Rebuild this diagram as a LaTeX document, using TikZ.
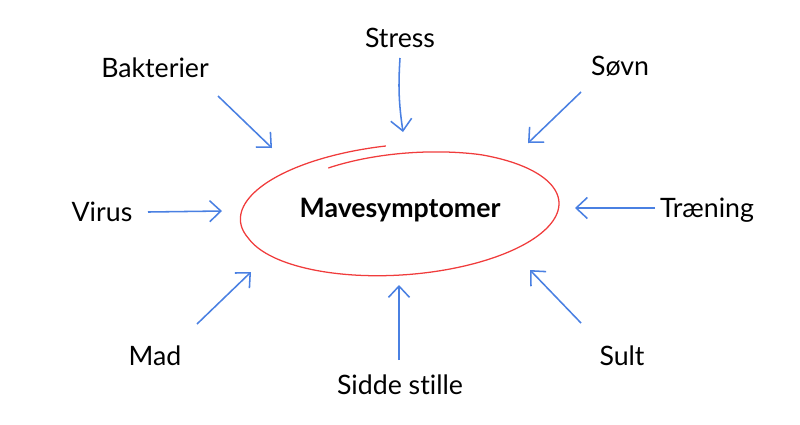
\documentclass[tikz,border=0pt]{standalone}
\usepackage{fontspec}
\setmainfont[Ligatures=NoCommon]{Lato}
\usepackage{tikz}
\usetikzlibrary{arrows.meta}
\definecolor{arrowblue}{RGB}{74,128,226}
\definecolor{ringred}{RGB}{240,60,60}

\begin{document}
\begin{tikzpicture}[x=0.025cm,y=-0.025cm,
  word/.style={font=\fontsize{19}{23}\selectfont, inner sep=0pt},
  cause/.style={draw=arrowblue, line width=1.1pt, -{Straight Barb[length=8pt,width=15pt,line width=1.1pt]}}]

\useasboundingbox (0,0) rectangle (800,424);

% Center
\node [word, font=\fontsize{19}{23}\selectfont\bfseries] (mave) at (400,210) {Mavesymptomer};
\draw [ringred, line width=0.9pt] plot [domain=120:-265, samples=160, smooth, variable=\t]
  ({401 + 158*(1 - 0.08*max(0,(\t-60)/60) + 0.1*max(0,(-165-\t)/100))*cos(\t)},
   {213 - 62*(1 - 0.08*max(0,(\t-60)/60) + 0.1*max(0,(-165-\t)/100))*sin(\t)
    - 0.06*158*(1 - 0.08*max(0,(\t-60)/60) + 0.1*max(0,(-165-\t)/100))*cos(\t)});

% Labels
\node [word] (stress) at (400,38) {Stress};
\node [word] (bakterier) at (155,68) {Bakterier};
\node [word] (sovn) at (620,66) {Søvn};
\node [word] (virus) at (102,212) {Virus};
\node [word] (traening) at (707,210) {Træning};
\node [word] (mad) at (155,356) {Mad};
\node [word] (sidde) at (400,385) {Sidde stille};
\node [word] (sult) at (622,356) {Sult};

% Arrow ends
\coordinate (stress-a) at (400,58);   \coordinate (stress-b) at (403,132);
\coordinate (bakt-a) at (218,96);     \coordinate (bakt-b) at (272,148);
\coordinate (sovn-a) at (581,92);     \coordinate (sovn-b) at (528,143);
\coordinate (virus-a) at (148,212);   \coordinate (virus-b) at (222,211);
\coordinate (traen-a) at (655,208);   \coordinate (traen-b) at (575,208);
\coordinate (mad-a) at (197,324);     \coordinate (mad-b) at (251,272);
\coordinate (sidde-a) at (399,360);   \coordinate (sidde-b) at (399,285);
\coordinate (sult-a) at (581,323);    \coordinate (sult-b) at (530,270);

% Arrows
\draw [cause] (stress-a) to[bend right=6] (stress-b);
\draw [cause] (bakt-a) -- (bakt-b);
\draw [cause] (sovn-a) -- (sovn-b);
\draw [cause] (virus-a) -- (virus-b);
\draw [cause] (traen-a) -- (traen-b);
\draw [cause] (mad-a) -- (mad-b);
\draw [cause] (sidde-a) -- (sidde-b);
\draw [cause] (sult-a) -- (sult-b);

\end{tikzpicture}
\end{document}
